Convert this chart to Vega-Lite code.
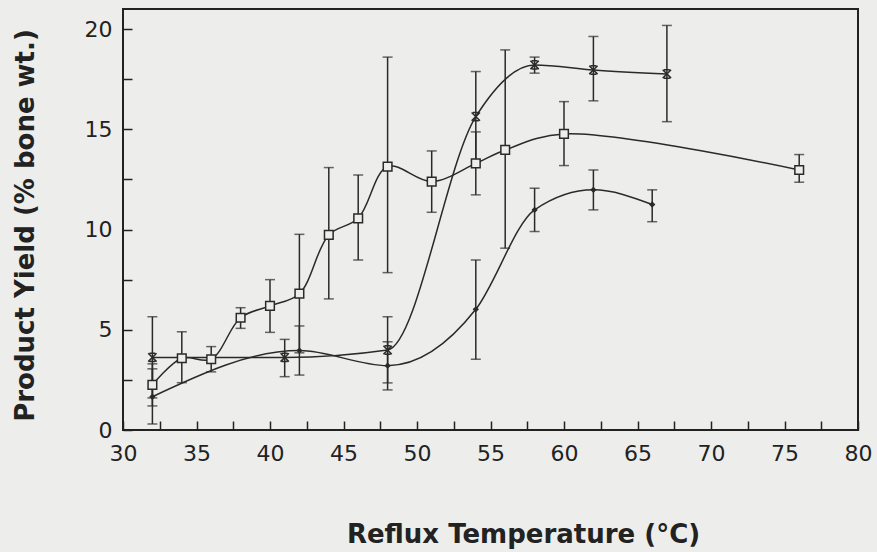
{
  "$schema": "https://vega.github.io/schema/vega-lite/v6.json",
  "width": 735,
  "height": 421,
  "autosize": {"type": "none"},
  "padding": {"left": 123, "top": 9, "right": 19, "bottom": 122},
  "background": "#ededeb",
  "config": {
    "view": {"stroke": "#222", "strokeWidth": 2},
    "axis": {
      "domain": false, "grid": false, "tickColor": "#222", "tickWidth": 1.5, "tickSize": 9, "offset": -9,
      "labelColor": "#222", "labelFont": "DejaVu Sans", "labelFontSize": 22,
      "titleColor": "#222", "titleFont": "DejaVu Sans", "titleFontWeight": "bold", "titleFontSize": 26
    }
  },
  "data": {
    "values": [
      {"s": "S", "t": 32, "y": 2.25, "lo": 1.2, "hi": 3.3},
      {"s": "S", "t": 34, "y": 3.58, "lo": 2.36, "hi": 4.9},
      {"s": "S", "t": 36, "y": 3.53, "lo": 2.9, "hi": 4.16},
      {"s": "S", "t": 38, "y": 5.6, "lo": 5.07, "hi": 6.1},
      {"s": "S", "t": 40, "y": 6.19, "lo": 4.87, "hi": 7.5},
      {"s": "S", "t": 42, "y": 6.8, "lo": 3.85, "hi": 9.76},
      {"s": "S", "t": 44, "y": 9.73, "lo": 6.54, "hi": 13.09},
      {"s": "S", "t": 46, "y": 10.56, "lo": 8.48, "hi": 12.72},
      {"s": "S", "t": 48, "y": 13.14, "lo": 7.85, "hi": 18.6},
      {"s": "S", "t": 51, "y": 12.39, "lo": 10.86, "hi": 13.92},
      {"s": "S", "t": 54, "y": 13.3, "lo": 11.73, "hi": 14.87},
      {"s": "S", "t": 56, "y": 13.97, "lo": 9.07, "hi": 18.96},
      {"s": "S", "t": 60, "y": 14.77, "lo": 13.19, "hi": 16.38},
      {"s": "S", "t": 76, "y": 12.97, "lo": 12.36, "hi": 13.74},
      {"s": "X", "t": 32, "y": 3.62, "lo": 1.6, "hi": 5.65},
      {"s": "X", "t": 41, "y": 3.62, "lo": 2.66, "hi": 4.52},
      {"s": "X", "t": 48, "y": 3.99, "lo": 2.35, "hi": 5.65},
      {"s": "X", "t": 54, "y": 15.63, "lo": 13.4, "hi": 17.88},
      {"s": "X", "t": 58, "y": 18.21, "lo": 17.8, "hi": 18.6},
      {"s": "X", "t": 62, "y": 17.96, "lo": 16.42, "hi": 19.63},
      {"s": "X", "t": 67, "y": 17.76, "lo": 15.38, "hi": 20.18},
      {"s": "D", "t": 32, "y": 1.66, "lo": 0.3, "hi": 3.05},
      {"s": "D", "t": 42, "y": 3.96, "lo": 2.74, "hi": 5.19},
      {"s": "D", "t": 48, "y": 3.21, "lo": 2.0, "hi": 4.4},
      {"s": "D", "t": 54, "y": 6.02, "lo": 3.53, "hi": 8.48},
      {"s": "D", "t": 58, "y": 10.98, "lo": 9.9, "hi": 12.06},
      {"s": "D", "t": 62, "y": 11.98, "lo": 10.98, "hi": 12.97},
      {"s": "D", "t": 66, "y": 11.25, "lo": 10.39, "hi": 11.98}
    ]
  },
  "encoding": {
    "x": {
      "field": "t", "type": "quantitative",
      "scale": {"domain": [30, 80], "nice": false, "zero": false},
      "axis": {
        "title": "Reflux Temperature (°C)",
        "values": [30, 32.5, 35, 37.5, 40, 42.5, 45, 47.5, 50, 52.5, 55, 57.5, 60, 62.5, 65, 67.5, 70, 72.5, 75, 77.5, 80],
        "labelExpr": "datum.value % 5 === 0 ? datum.label : ''",
        "labelPadding": 13, "labelFlush": false, "labelOverlap": false,
        "titleX": 400, "titleY": 121, "titleBaseline": "alphabetic", "titleAnchor": null
      }
    }
  },
  "layer": [
    {
      "transform": [{"filter": "datum.s === 'S'"}],
      "mark": {"type": "line", "interpolate": "catmull-rom", "stroke": "#2a2a2a", "strokeWidth": 1.5},
      "encoding": {
        "y": {
          "field": "y", "type": "quantitative",
          "scale": {"domain": [0, 21], "nice": false},
          "axis": {
            "title": "Product Yield (% bone wt.)",
            "values": [0, 2.5, 5, 7.5, 10, 12.5, 15, 17.5, 20],
            "labelExpr": "datum.value % 5 === 0 ? datum.label : ''",
            "labelPadding": 11, "labelOverlap": false, "labelFlush": false,
            "titleX": -107, "titleY": 216, "titleBaseline": "middle", "titleAnchor": null
          }
        }
      }
    },
    {
      "transform": [{"filter": "datum.s !== 'S'"}],
      "mark": {"type": "line", "interpolate": "monotone", "stroke": "#2a2a2a", "strokeWidth": 1.5},
      "encoding": {
        "y": {
          "field": "y", "type": "quantitative",
          "axis": {
            "title": "Product Yield (% bone wt.)",
            "values": [0, 2.5, 5, 7.5, 10, 12.5, 15, 17.5, 20],
            "labelExpr": "datum.value % 5 === 0 ? datum.label : ''",
            "labelPadding": 11, "labelOverlap": false, "labelFlush": false,
            "titleX": -107, "titleY": 216, "titleBaseline": "middle", "titleAnchor": null
          }
        },
        "detail": {"field": "s"}
      }
    },
    {
      "mark": {"type": "rule", "stroke": "#2a2a2a", "strokeWidth": 1.5},
      "encoding": {
        "y": {
          "field": "lo", "type": "quantitative",
          "axis": {
            "title": "Product Yield (% bone wt.)",
            "values": [0, 2.5, 5, 7.5, 10, 12.5, 15, 17.5, 20],
            "labelExpr": "datum.value % 5 === 0 ? datum.label : ''",
            "labelPadding": 11, "labelOverlap": false, "labelFlush": false,
            "titleX": -107, "titleY": 216, "titleBaseline": "middle", "titleAnchor": null
          }
        },
        "y2": {"field": "hi"}
      }
    },
    {
      "mark": {"type": "tick", "orient": "horizontal", "color": "#2a2a2a", "size": 10, "thickness": 1.5},
      "encoding": {
        "y": {
          "field": "lo", "type": "quantitative",
          "axis": {
            "title": "Product Yield (% bone wt.)",
            "values": [0, 2.5, 5, 7.5, 10, 12.5, 15, 17.5, 20],
            "labelExpr": "datum.value % 5 === 0 ? datum.label : ''",
            "labelPadding": 11, "labelOverlap": false, "labelFlush": false,
            "titleX": -107, "titleY": 216, "titleBaseline": "middle", "titleAnchor": null
          }
        }
      }
    },
    {
      "mark": {"type": "tick", "orient": "horizontal", "color": "#2a2a2a", "size": 10, "thickness": 1.5},
      "encoding": {
        "y": {
          "field": "hi", "type": "quantitative",
          "axis": {
            "title": "Product Yield (% bone wt.)",
            "values": [0, 2.5, 5, 7.5, 10, 12.5, 15, 17.5, 20],
            "labelExpr": "datum.value % 5 === 0 ? datum.label : ''",
            "labelPadding": 11, "labelOverlap": false, "labelFlush": false,
            "titleX": -107, "titleY": 216, "titleBaseline": "middle", "titleAnchor": null
          }
        }
      }
    },
    {
      "transform": [{"filter": "datum.s === 'S'"}],
      "mark": {"type": "point", "shape": "square", "filled": true, "fill": "#ededeb", "stroke": "#2a2a2a", "strokeWidth": 1.5, "size": 75, "opacity": 1},
      "encoding": {
        "y": {
          "field": "y", "type": "quantitative",
          "axis": {
            "title": "Product Yield (% bone wt.)",
            "values": [0, 2.5, 5, 7.5, 10, 12.5, 15, 17.5, 20],
            "labelExpr": "datum.value % 5 === 0 ? datum.label : ''",
            "labelPadding": 11, "labelOverlap": false, "labelFlush": false,
            "titleX": -107, "titleY": 216, "titleBaseline": "middle", "titleAnchor": null
          }
        }
      }
    },
    {
      "transform": [{"filter": "datum.s === 'X'"}],
      "mark": {"type": "point", "shape": "M-1,-1L1,1M1,-1L-1,1M-0.7,-1L0.7,-1M-0.7,1L0.7,1", "filled": false, "stroke": "#2a2a2a", "strokeWidth": 1.5, "size": 70, "opacity": 1},
      "encoding": {
        "y": {
          "field": "y", "type": "quantitative",
          "axis": {
            "title": "Product Yield (% bone wt.)",
            "values": [0, 2.5, 5, 7.5, 10, 12.5, 15, 17.5, 20],
            "labelExpr": "datum.value % 5 === 0 ? datum.label : ''",
            "labelPadding": 11, "labelOverlap": false, "labelFlush": false,
            "titleX": -107, "titleY": 216, "titleBaseline": "middle", "titleAnchor": null
          }
        }
      }
    },
    {
      "transform": [{"filter": "datum.s === 'D'"}],
      "mark": {"type": "point", "shape": "diamond", "filled": true, "fill": "#2a2a2a", "size": 40, "opacity": 1},
      "encoding": {
        "y": {
          "field": "y", "type": "quantitative",
          "axis": {
            "title": "Product Yield (% bone wt.)",
            "values": [0, 2.5, 5, 7.5, 10, 12.5, 15, 17.5, 20],
            "labelExpr": "datum.value % 5 === 0 ? datum.label : ''",
            "labelPadding": 11, "labelOverlap": false, "labelFlush": false,
            "titleX": -107, "titleY": 216, "titleBaseline": "middle", "titleAnchor": null
          }
        }
      }
    }
  ]
}
